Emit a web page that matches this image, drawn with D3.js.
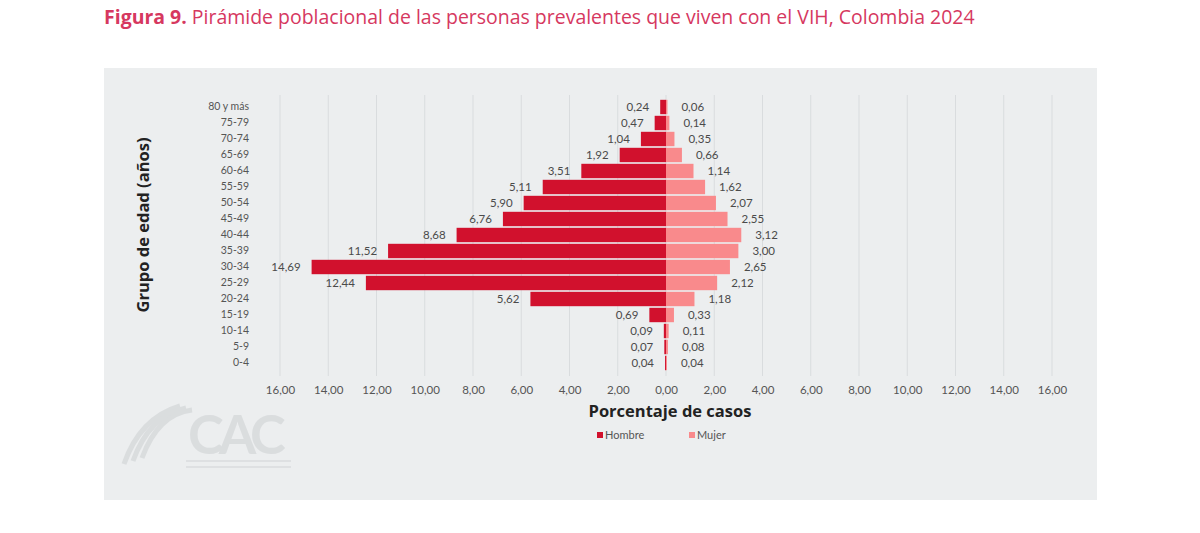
<!DOCTYPE html>
<html>
<head>
<meta charset="utf-8">
<script src="https://cdn.jsdelivr.net/npm/d3@7"></script>
<style>
    body { margin: 0; background: #fff; font-family: Lato, "Open Sans", sans-serif; }
    svg { display: block; }
    .tick text { fill: #555; }
</style>
</head>
<body>
<div id="chart"></div>
<script>
// age groups, top to bottom
const ageGroups = ['80 y más', '75-79', '70-74', '65-69', '60-64', '55-59', '50-54', '45-49',
    '40-44', '35-39', '30-34', '25-29', '20-24', '15-19', '10-14', '5-9', '0-4'];
const hombre = [0.24, 0.47, 1.04, 1.92, 3.51, 5.11, 5.90, 6.76, 8.68, 11.52, 14.69, 12.44, 5.62, 0.69, 0.09, 0.07, 0.04];
const mujer = [0.06, 0.14, 0.35, 0.66, 1.14, 1.62, 2.07, 2.55, 3.12, 3.00, 2.65, 2.12, 1.18, 0.33, 0.11, 0.08, 0.04];
const tickValues = [-16, -14, -12, -10, -8, -6, -4, -2, 0, 2, 4, 6, 8, 10, 12, 14, 16];
const seriesNames = ['Hombre', 'Mujer'];

const W = 1200, H = 533;
const COLORS = { Hombre: '#d1112d', Mujer: '#f98a8c' };
const fmt = v => d3.format('.2f')(Math.abs(v)).replace('.', ',');

const svg = d3.select('#chart').append('svg').attr('width', W).attr('height', H);

// title
const title = svg.append('text')
    .attr('x', 104).attr('y', 24)
    .attr('font-size', 17.5)
    .attr('font-family', '"Open Sans", sans-serif')
    .attr('fill', '#d6385f');
title.append('tspan').attr('font-weight', 'bold').text('Figura 9.');
title.append('tspan').text(' Pirámide poblacional de las personas prevalentes que viven con el VIH, Colombia 2024');
// stretch to the reference width
const tw = title.node().getComputedTextLength();
title.attr('font-size', 17.5 * 871 / tw);

// grey panel
svg.append('rect')
    .attr('x', 104).attr('y', 68).attr('width', 993).attr('height', 432)
    .attr('fill', '#eceeef');

// watermark logo (rough)
const logo = svg.append('g').attr('opacity', 0.6);
[0, 1, 2].forEach(i => {
    logo.append('path')
        .attr('d', `M${124 + i * 9},${464 - i * 3} Q${140 + i * 9},${418 - i * 2} ${180 + i * 6},${406 + i * 2}`)
        .attr('fill', 'none').attr('stroke', '#cfd2d4').attr('stroke-width', 5);
});
logo.append('text')
    .attr('x', 188).attr('y', 454)
    .attr('font-size', 54).attr('font-weight', 'bold')
    .attr('fill', '#cfd2d4').attr('letter-spacing', -5)
    .text('CAC');
logo.append('rect').attr('x', 186).attr('y', 460).attr('width', 105).attr('height', 2).attr('fill', '#d6d8da');
logo.append('rect').attr('x', 186).attr('y', 466).attr('width', 105).attr('height', 2).attr('fill', '#d6d8da');

// scales
const x = d3.scaleLinear().domain([-16, 16]).range([280, 1052]);
const y = d3.scaleBand().domain(ageGroups).range([99, 371]).paddingInner(0.1).paddingOuter(0.05);

// grid
svg.append('g').selectAll('line')
    .data(tickValues)
    .join('line')
        .attr('x1', d => x(d)).attr('x2', d => x(d))
        .attr('y1', 95).attr('y2', 376)
        .attr('stroke', '#d9dcde').attr('stroke-width', 1);

// x axis
const xAxis = svg.append('g')
    .attr('transform', 'translate(0,383)')
    .call(d3.axisBottom(x).tickValues(tickValues).tickSize(0).tickFormat(fmt));
xAxis.select('.domain').remove();
xAxis.selectAll('text').attr('font-size', 11.5).attr('font-family', 'Lato, sans-serif');

// y axis labels
const yAxis = svg.append('g')
    .attr('transform', 'translate(252,0)')
    .call(d3.axisLeft(y).tickSize(0));
yAxis.select('.domain').remove();
yAxis.selectAll('text').attr('font-size', 10.5).attr('font-family', 'Lato, sans-serif').attr('dx', 0);

// bars
const rows = ageGroups.map((g, i) => ({ group: g, h: hombre[i], m: mujer[i] }));

svg.append('g').selectAll('rect')
    .data(rows)
    .join('rect')
        .attr('x', d => x(-d.h))
        .attr('y', d => y(d.group))
        .attr('width', d => x(0) - x(-d.h))
        .attr('height', y.bandwidth())
        .attr('fill', COLORS.Hombre);

svg.append('g').selectAll('rect')
    .data(rows)
    .join('rect')
        .attr('x', x(0))
        .attr('y', d => y(d.group))
        .attr('width', d => x(d.m) - x(0))
        .attr('height', y.bandwidth())
        .attr('fill', COLORS.Mujer);

// value labels
svg.append('g').selectAll('text')
    .data(rows)
    .join('text')
        .attr('x', d => x(-d.h) - 11)
        .attr('y', d => y(d.group) + y.bandwidth() / 2)
        .attr('dy', '0.35em')
        .attr('text-anchor', 'end')
        .attr('font-size', 11.5).attr('fill', '#4a4a4a')
        .text(d => fmt(d.h));

svg.append('g').selectAll('text')
    .data(rows)
    .join('text')
        .attr('x', d => x(d.m) + 14)
        .attr('y', d => y(d.group) + y.bandwidth() / 2)
        .attr('dy', '0.35em')
        .attr('font-size', 11.5).attr('fill', '#4a4a4a')
        .text(d => fmt(d.m));

// axis titles
svg.append('text')
    .attr('x', 670).attr('y', 417)
    .attr('text-anchor', 'middle')
    .attr('font-family', '"Open Sans", sans-serif')
    .attr('font-size', 16.5).attr('font-weight', 'bold').attr('fill', '#222')
    .text('Porcentaje de casos');

svg.append('text')
    .attr('transform', 'translate(149,225) rotate(-90)')
    .attr('text-anchor', 'middle')
    .attr('font-family', '"Open Sans", sans-serif')
    .attr('font-size', 16.5).attr('font-weight', 'bold').attr('fill', '#222')
    .text('Grupo de edad (años)');

// legend
const legend = svg.append('g').selectAll('g')
    .data(seriesNames)
    .join('g')
        .attr('transform', (d, i) => 'translate(' + (597 + i * 92) + ',435)');
legend.append('rect')
    .attr('x', 0).attr('y', -3).attr('width', 6).attr('height', 6)
    .attr('fill', d => COLORS[d]);
legend.append('text')
    .attr('x', 8).attr('y', 0).attr('dy', '0.35em')
    .attr('font-size', 11).attr('fill', '#555')
    .text(d => d);
</script>
</body>
</html>
